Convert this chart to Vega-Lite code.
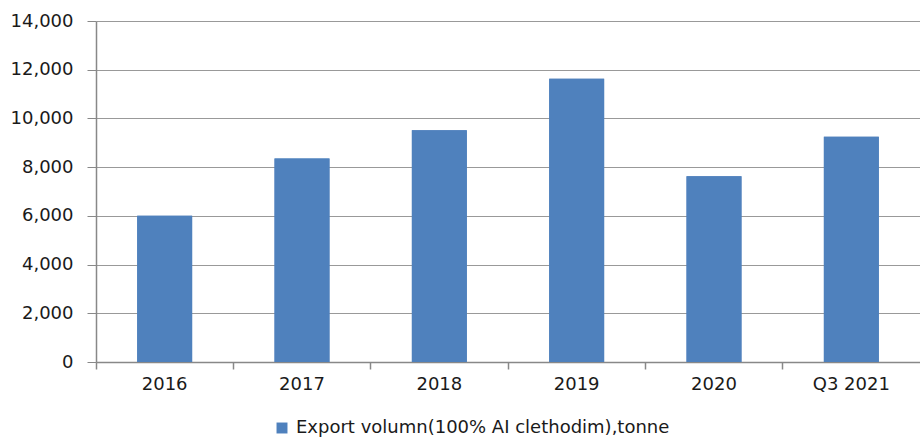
{
  "$schema": "https://vega.github.io/schema/vega-lite/v6.json",
  "width": 824,
  "height": 341,
  "autosize": {"type": "none"},
  "padding": {"left": 96, "top": 21, "right": 0, "bottom": 75},
  "background": "white",
  "config": {
    "view": {"stroke": null},
    "font": "DejaVu Sans",
    "axis": {"labelFont": "DejaVu Sans", "labelColor": "#1a1a1a", "labelFontSize": 18}
  },
  "data": {
    "values": [
      {"year": "2016", "volume": 6000},
      {"year": "2017", "volume": 8355},
      {"year": "2018", "volume": 9510},
      {"year": "2019", "volume": 11630},
      {"year": "2020", "volume": 7630},
      {"year": "Q3 2021", "volume": 9250}
    ]
  },
  "layer": [
    {
      "mark": {"type": "bar", "color": "#4F81BD", "width": {"band": 0.4}},
      "encoding": {
        "x": {
          "field": "year", "type": "nominal", "sort": null,
          "scale": {"paddingInner": 0, "paddingOuter": 0},
          "axis": {"title": null, "labelAngle": 0, "ticks": false, "domain": true, "domainColor": "#888888", "domainWidth": 1.5, "labelPadding": 13, "grid": false}
        },
        "y": {
          "field": "volume", "type": "quantitative",
          "scale": {"domain": [0, 14000], "nice": false},
          "axis": {"title": null, "values": [0, 2000, 4000, 6000, 8000, 10000, 12000, 14000], "format": ",d", "grid": true, "gridColor": "#999999", "gridWidth": 1.2, "domain": true, "domainColor": "#888888", "domainWidth": 1.5, "tickColor": "#888888", "tickSize": 9, "labelPadding": 14}
        },
        "color": {
          "datum": "Export volumn(100% AI clethodim),tonne",
          "type": "nominal",
          "scale": {"range": ["#4F81BD"]},
          "legend": {"title": null, "orient": "none", "legendX": 177, "legendY": 398, "symbolType": "square", "symbolSize": 120, "labelFontSize": 18, "labelFont": "DejaVu Sans", "labelColor": "#1a1a1a", "symbolStrokeWidth": 0, "labelLimit": 0, "labelOffset": 5}
        }
      }
    },
    {
      "mark": {"type": "bar", "color": "#4F81BD", "width": {"band": 0.4}},
      "encoding": {
        "x": {
          "field": "year", "type": "nominal", "sort": null,
          "axis": {"title": null, "orient": "bottom", "labels": false, "domain": false, "ticks": true, "tickColor": "#888888", "tickSize": 7, "tickWidth": 1.5, "bandPosition": 0, "grid": false}
        },
        "y": {"field": "volume", "type": "quantitative"}
      }
    }
  ],
  "resolve": {"axis": {"x": "independent"}}
}
